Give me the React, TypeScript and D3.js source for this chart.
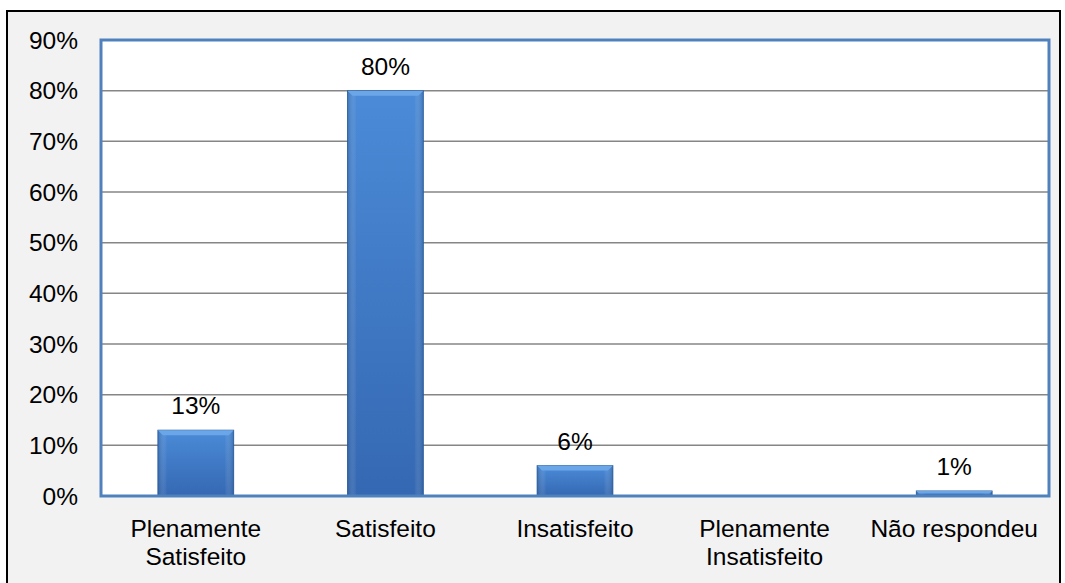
import React from "react";
import * as d3 from "d3";

const categories = [["Plenamente", "Satisfeito"], ["Satisfeito"], ["Insatisfeito"], ["Plenamente", "Insatisfeito"], ["Não respondeu"]];
const values = [13, 80, 6, 0, 1];
const labels = ["13%", "80%", "6%", "", "1%"];
const ticks = [0, 10, 20, 30, 40, 50, 60, 70, 80, 90];

export default function App() {
  const W = 1065, H = 583;
  const left = 101, right = 1049, top = 40, bottom = 496;
  const x = d3.scaleBand<number>().domain(d3.range(values.length)).range([left, right]).paddingInner(0.6).paddingOuter(0.3);
  const y = d3.scaleLinear().domain([0, 90]).range([bottom, top]);
  const font = "'Liberation Sans', Arial, sans-serif";
  const fs = 24.5;
  const bev = 5;
  return (
    <svg width={W} height={H} style={{ position: "absolute", left: 0, top: 0 }}>
      <defs>
        <linearGradient id="bar" x1="0" y1="0" x2="0" y2="1">
          <stop offset="0" stopColor="#4b8bd8" />
          <stop offset="1" stopColor="#3568b2" />
        </linearGradient>
        <linearGradient id="barH" x1="0" y1="0" x2="1" y2="0">
          <stop offset="0" stopColor="#1e4f8c" stopOpacity="0.4" />
          <stop offset="0.12" stopColor="#ffffff" stopOpacity="0" />
          <stop offset="0.88" stopColor="#ffffff" stopOpacity="0" />
          <stop offset="1" stopColor="#1e4f8c" stopOpacity="0.4" />
        </linearGradient>
      </defs>
      <rect x={7} y={11} width={1053} height={580} fill="#f2f2f2" stroke="#000" strokeWidth={2} />
      <rect x={left} y={top} width={right - left} height={bottom - top} fill="#fff" />
      {ticks.map((t) => (
        <g key={t}>
          {t > 0 && t < 90 && <line x1={left} x2={right} y1={y(t)} y2={y(t)} stroke="#868686" strokeWidth={1.5} />}
          <text x={78} y={y(t)} dy="0.36em" textAnchor="end" fontFamily={font} fontSize={fs} fill="#000">{t}%</text>
        </g>
      ))}
      {values.map((v, i) => {
        const bx = x(i)!, bw = x.bandwidth(), by = y(v), bh = bottom - by;
        if (v <= 0) return null;
        const b = Math.min(bev, bh / 2);
        return (
          <g key={i}>
            <rect x={bx} y={by} width={bw} height={bh} fill="url(#bar)" stroke="#2a5a96" strokeWidth={0.8} />
            <rect x={bx} y={by} width={bw} height={bh} fill="url(#barH)" />
            <polygon points={`${bx},${by} ${bx + bw},${by} ${bx + bw - b},${by + b} ${bx + b},${by + b}`} fill="#6aa6e8" />
          </g>
        );
      })}
      {values.map((v, i) => labels[i] ? (
        <text key={i} x={x(i)! + x.bandwidth() / 2} y={y(v) - 16} textAnchor="middle" fontFamily={font} fontSize={fs} fill="#000">{labels[i]}</text>
      ) : null)}
      <rect x={left} y={top} width={right - left} height={bottom - top} fill="none" stroke="#4f81bd" strokeWidth={3} />
      {categories.map((c, i) => (
        <text key={i} x={x(i)! + x.bandwidth() / 2} y={537} textAnchor="middle" fontFamily={font} fontSize={fs} fill="#000">
          {c.map((line, j) => (
            <tspan key={j} x={x(i)! + x.bandwidth() / 2} dy={j === 0 ? 0 : 28}>{line}</tspan>
          ))}
        </text>
      ))}
    </svg>
  );
}
